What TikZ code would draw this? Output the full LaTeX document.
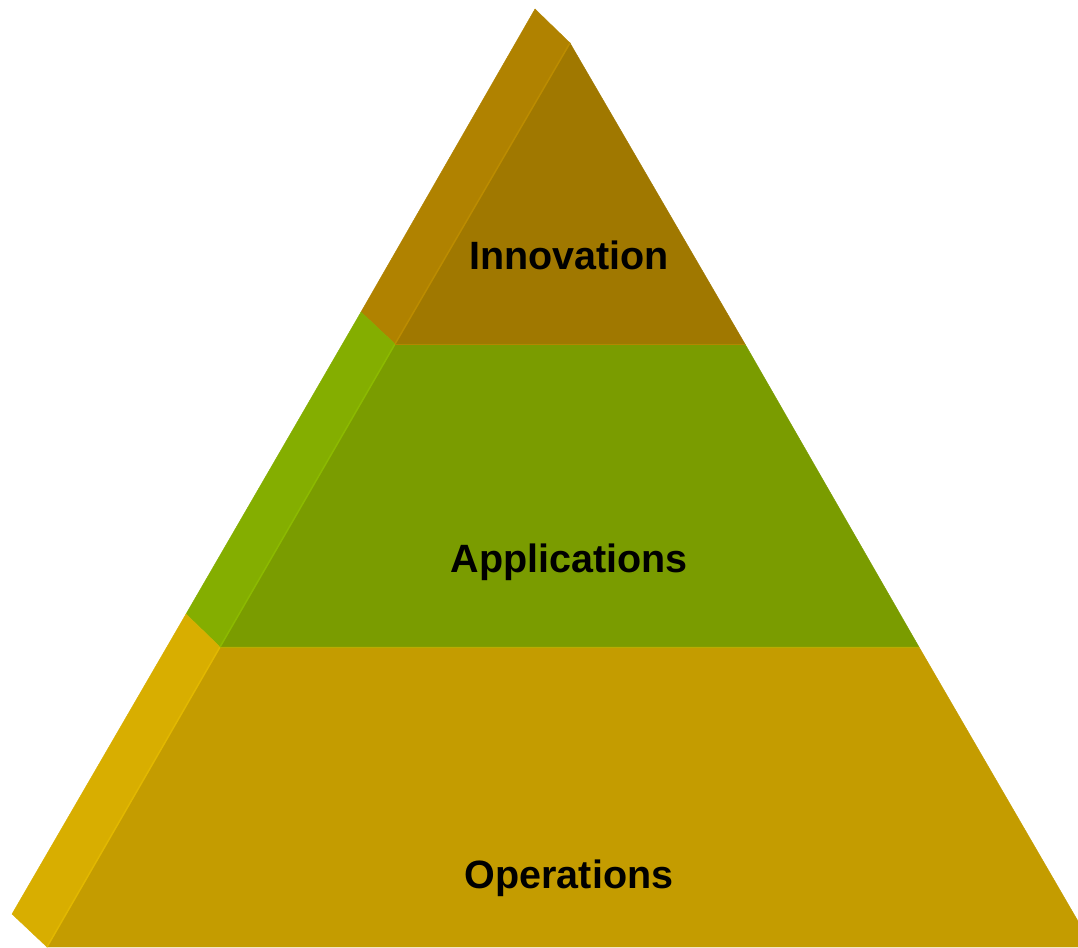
\documentclass[tikz,border=0pt]{standalone}
\usepackage{fontspec}
\setmainfont{Liberation Sans}
\usepackage{tikz}

\definecolor{innofront}{HTML}{A07800}
\definecolor{innoside}{HTML}{B08200}
\definecolor{innoedge}{HTML}{BC8C00}
\definecolor{appfront}{HTML}{7A9C00}
\definecolor{appside}{HTML}{84AE00}
\definecolor{appedge}{HTML}{8CBA00}
\definecolor{opfront}{HTML}{C49C00}
\definecolor{opside}{HTML}{D8AE00}
\definecolor{opedge}{HTML}{E2B800}

\begin{document}
\begin{tikzpicture}[x=1pt, y=-1pt,
        layerlabel/.style={font=\fontsize{39.5}{47}\selectfont\bfseries, text=black, anchor=base, inner sep=0pt}]
        \useasboundingbox (0,0) rectangle (1078,947);
        \clip (0,0) rectangle (1078,947);
        % front corners
        \coordinate (apex) at (570,43);
        \coordinate (innoL) at (395,344);
        \coordinate (innoR) at (745,344);
        \coordinate (appL) at (220,647);
        \coordinate (appR) at (919,647);
        \coordinate (opL) at (47,947);
        \coordinate (opR) at (1093,947);
        % side corners
        \coordinate (sapex) at (535,9);
        \coordinate (sinno) at (361,312);
        \coordinate (sapp) at (186,614);
        \coordinate (sop) at (12,914);
        % side strip
        \filldraw[innoside, draw=innoside] (sapex) -- (apex) -- (innoL) -- (sinno) -- cycle;
        \filldraw[appside, draw=appside] (sinno) -- (innoL) -- (appL) -- (sapp) -- cycle;
        \filldraw[opside, draw=opside] (sapp) -- (appL) -- (opL) -- (sop) -- cycle;
        % front face
        \filldraw[innofront, draw=innofront] (apex) -- (innoR) -- (innoL) -- cycle;
        \filldraw[appfront, draw=appfront] (innoL) -- (innoR) -- (appR) -- (appL) -- cycle;
        \filldraw[opfront, draw=opfront] (appL) -- (appR) -- (opR) -- (opL) -- cycle;
        % edges
        \draw[innoedge, line width=1.5pt] (apex) -- (innoL);
        \draw[appedge, line width=1.5pt] (innoL) -- (appL);
        \draw[opedge, line width=1.5pt] (appL) -- (opL);
        \draw[innoedge!70!innofront, line width=1pt] (innoL) -- (innoR);
        \draw[opedge!60!appfront, line width=1pt] (appL) -- (appR);
        % labels
        \node[layerlabel] (innovation) at (569,269) {Innovation};
        \node[layerlabel] (applications) at (569,572) {Applications};
        \node[layerlabel] (operations) at (569,888) {Operations};
    \end{tikzpicture}
\end{document}
